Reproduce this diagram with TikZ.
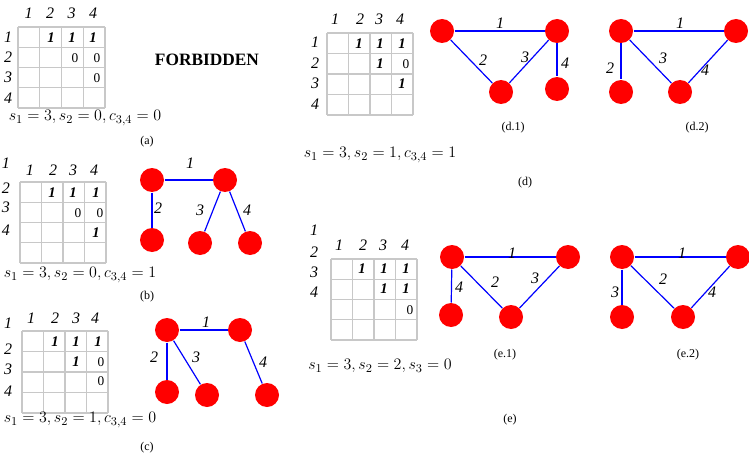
\documentclass[tikz,border=0pt]{standalone}
\usepackage{fontspec}
\setmainfont{Liberation Serif}
\tikzset{every picture/.style={line width=0.75pt}}
\tikzset{
  vtx/.style={circle,fill={rgb,255:red,255;green,0;blue,0},inner sep=0pt,minimum size=18pt},
  edg/.style={draw={rgb,255:red,0;green,0;blue,255},line width=0.9pt},
  lbl/.style={inner sep=0.75pt,font=\fontsize{12}{14}\selectfont\itshape},
  one/.style={inner sep=0.75pt,font=\fontsize{11}{13}\selectfont\bfseries\itshape},
  zero/.style={inner sep=0.75pt,font=\fontsize{10}{12}\selectfont},
  captxt/.style={inner sep=0.75pt,font=\fontsize{9}{11}\selectfont},
  frm/.style={inner sep=0.75pt,font=\fontsize{13}{15}\selectfont},
  gridln/.style={draw={rgb,255:red,200;green,200;blue,200},line width=1pt}
}
\begin{document}
\begin{tikzpicture}[x=0.75pt,y=0.75pt,yscale=-1,xscale=1]
\useasboundingbox (0,0) rectangle (749,460);

%Grid (a)
\foreach \i in {0,...,4} {
  \draw [gridln] (18+21.75*\i,27) -- (18+21.75*\i,108) ;
  \draw [gridln] (18,27+20.25*\i) -- (105,27+20.25*\i) ;
}
\foreach \t [count=\k] in {1,2,3,4} {
  \node [lbl] at (7+21.5*\k,13) {\t};
  \node [lbl] at (8,17+20.25*\k) {\t};
}
\node [one] at (51,38) {1}; \node [one] at (72,38) {1}; \node [one] at (93,38) {1};
\node [zero] at (75,58) {0}; \node [zero] at (97,58) {0};
\node [zero] at (97,78) {0};
\node [font=\fontsize{13}{15}\selectfont\bfseries] at (207,60) {FORBIDDEN};
\node [frm] at (85,118) {$s_1=3, s_2=0, c_{3,4}=0$};
\node [captxt] at (147,142) {(a)};

%Grid (b)
\foreach \i in {0,...,4} {
  \draw [gridln] (20+21.5*\i,182) -- (20+21.5*\i,263) ;
  \draw [gridln] (20,182+20.25*\i) -- (106,182+20.25*\i) ;
}
\foreach \t/\x in {1/30,2/53,3/73,4/94} \node [lbl] at (\x,170) {\t};
\foreach \t/\y in {1/163,2/188,3/207,4/230} \node [lbl] at (6,\y) {\t};
\node [one] at (52,193) {1}; \node [one] at (73,193) {1}; \node [one] at (96,193) {1};
\node [zero] at (78,213) {0}; \node [zero] at (100,213) {0};
\node [one] at (96,233) {1};
\node [frm] at (80,275) {$s_1=3, s_2=0, c_{3,4}=1$};
\node [captxt] at (147,297) {(b)};

%Graph (b)
\node [vtx] (b1) at (152,180) {};
\node [vtx] (b2) at (225,180) {};
\node [vtx] (b3) at (152,240) {};
\node [vtx] (b4) at (200,243) {};
\node [vtx] (b5) at (250,243) {};
\draw [edg] (b1) -- (b2) ; \draw [edg] (b1) -- (b3) ;
\draw [edg] (b2) -- (b4) ; \draw [edg] (b2) -- (b5) ;
\node [lbl] at (190,163) {1}; \node [lbl] at (158,208) {2};
\node [lbl] at (200,210) {3}; \node [lbl] at (247,210) {4};

%Grid (c)
\foreach \i in {0,...,4} {
  \draw [gridln] (22+21.5*\i,331) -- (22+21.5*\i,413) ;
  \draw [gridln] (22,331+20.5*\i) -- (108,331+20.5*\i) ;
}
\foreach \t/\x in {1/31,2/55,3/76,4/95} \node [lbl] at (\x,318) {\t};
\foreach \t/\y in {1/323,2/349,3/369,4/391} \node [lbl] at (8,\y) {\t};
\node [one] at (55,342) {1}; \node [one] at (76,342) {1}; \node [one] at (98,342) {1};
\node [one] at (76,362) {1}; \node [zero] at (101,362) {0};
\node [zero] at (101,381) {0};
\node [frm] at (80,420) {$s_1=3, s_2=1, c_{3,4}=0$};
\node [captxt] at (147,448) {(c)};

%Graph (c)
\node [vtx] (c1) at (167,330) {};
\node [vtx] (c2) at (240,330) {};
\node [vtx] (c3) at (167,392) {};
\node [vtx] (c4) at (207,395) {};
\node [vtx] (c5) at (267,395) {};
\draw [edg] (c1) -- (c2) ; \draw [edg] (c1) -- (c3) ;
\draw [edg] (c1) -- (c4) ; \draw [edg] (c2) -- (c5) ;
\node [lbl] at (206,322) {1}; \node [lbl] at (154,357) {2};
\node [lbl] at (196,357) {3}; \node [lbl] at (263,362) {4};

%Grid (d)
\foreach \i in {0,...,4} {
  \draw [gridln] (327+21.5*\i,33) -- (327+21.5*\i,115) ;
  \draw [gridln] (327,33+20.5*\i) -- (413,33+20.5*\i) ;
}
\foreach \t/\x in {1/335,2/360,3/379,4/400} \node [lbl] at (\x,19) {\t};
\foreach \t/\y in {1/42,2/63,3/83,4/104} \node [lbl] at (315,\y) {\t};
\node [one] at (359,44) {1}; \node [one] at (380,44) {1}; \node [one] at (402,44) {1};
\node [one] at (380,64) {1}; \node [zero] at (406,64) {0};
\node [one] at (402,84) {1};
\node [frm] at (380,155) {$s_1=3, s_2=1, c_{3,4}=1$};
\node [captxt] at (525,183) {(d)};

%Graph (d.1)
\node [vtx] (d1) at (442,31) {};
\node [vtx] (d2) at (557,31) {};
\node [vtx] (d3) at (501,92) {};
\node [vtx] (d4) at (557,89) {};
\draw [edg] (d1) -- (d2) ; \draw [edg] (d1) -- (d3) ;
\draw [edg] (d2) -- (d3) ; \draw [edg] (d2) -- (d4) ;
\node [lbl] at (500,23) {1}; \node [lbl] at (483,60) {2};
\node [lbl] at (525,57) {3}; \node [lbl] at (565,63) {4};
\node [captxt] at (513,128) {(d.1)};

%Graph (d.2)
\node [vtx] (g1) at (621,31) {};
\node [vtx] (g2) at (736,31) {};
\node [vtx] (g3) at (621,92) {};
\node [vtx] (g4) at (680,92) {};
\draw [edg] (g1) -- (g2) ; \draw [edg] (g1) -- (g3) ;
\draw [edg] (g1) -- (g4) ; \draw [edg] (g2) -- (g4) ;
\node [lbl] at (680,23) {1}; \node [lbl] at (610,68) {2};
\node [lbl] at (663,58) {3}; \node [lbl] at (705,70) {4};
\node [captxt] at (697,128) {(d.2)};

%Grid (e)
\foreach \i in {0,...,4} {
  \draw [gridln] (331+21.5*\i,259) -- (331+21.5*\i,340) ;
  \draw [gridln] (331,259+20.25*\i) -- (417,259+20.25*\i) ;
}
\foreach \t/\x in {1/339,2/363,3/383,4/405} \node [lbl] at (\x,245) {\t};
\foreach \t/\y in {1/230,2/252,3/272,4/292} \node [lbl] at (314,\y) {\t};
\node [one] at (362,269) {1}; \node [one] at (384,269) {1}; \node [one] at (406,269) {1};
\node [one] at (384,289) {1}; \node [one] at (406,289) {1};
\node [zero] at (410,310) {0};
\node [frm] at (380,366) {$s_1=3, s_2=2, s_3=0$};
\node [captxt] at (510,420) {(e)};

%Graph (e.1)
\node [vtx] (e1) at (452,257) {};
\node [vtx] (e2) at (568,257) {};
\node [vtx] (e3) at (511,317) {};
\node [vtx] (e4) at (451,315) {};
\draw [edg] (e1) -- (e2) ; \draw [edg] (e1) -- (e3) ;
\draw [edg] (e2) -- (e3) ; \draw [edg] (e1) -- (e4) ;
\node [lbl] at (512,253) {1}; \node [lbl] at (495,282) {2};
\node [lbl] at (535,278) {3}; \node [lbl] at (459,287) {4};
\node [captxt] at (505,355) {(e.1)};

%Graph (e.2)
\node [vtx] (h1) at (622,257) {};
\node [vtx] (h2) at (738,257) {};
\node [vtx] (h3) at (683,317) {};
\node [vtx] (h4) at (622,317) {};
\draw [edg] (h1) -- (h2) ; \draw [edg] (h1) -- (h3) ;
\draw [edg] (h2) -- (h3) ; \draw [edg] (h1) -- (h4) ;
\node [lbl] at (682,253) {1}; \node [lbl] at (663,279) {2};
\node [lbl] at (712,292) {4}; \node [lbl] at (615,292) {3};
\node [captxt] at (688,355) {(e.2)};

\end{tikzpicture}
\end{document}
